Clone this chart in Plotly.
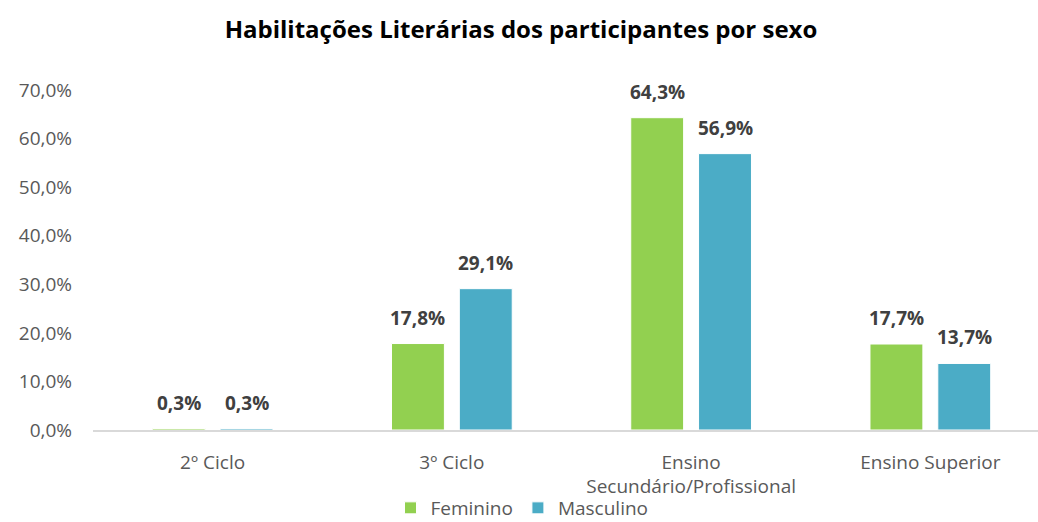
import plotly.graph_objects as go

categories = ["2º Ciclo", "3º Ciclo", "Ensino<br>Secundário/Profissional", "Ensino Superior"]
feminino = [0.3, 17.8, 64.3, 17.7]
masculino = [0.3, 29.1, 56.9, 13.7]
y_ticks = [0, 10, 20, 30, 40, 50, 60, 70]

FONT = "Open Sans"
GREEN = "#92D050"
BLUE = "#4BACC6"


def fmt(v):
    return f"{v:.1f}%".replace(".", ",")


fig = go.Figure()
fig.add_trace(go.Bar(name="Feminino", x=categories, y=feminino,
                     marker=dict(color=GREEN, line=dict(color="white", width=1))))
fig.add_trace(go.Bar(name="Masculino", x=categories, y=masculino,
                     marker=dict(color=BLUE, line=dict(color="white", width=1))))

annotations = []
for vals, shift in ((feminino, -34), (masculino, 34)):
    for c, v in zip(categories, vals):
        annotations.append(dict(x=c, y=v, xref="x", yref="y", text=fmt(v),
                                showarrow=False, xshift=shift, yshift=11,
                                yanchor="bottom",
                                font=dict(family=FONT, size=19, color="#404040", weight="bold")))

fig.update_layout(
    width=1038, height=522,
    paper_bgcolor="white", plot_bgcolor="white",
    margin=dict(l=93, r=0, t=90, b=92, autoexpand=False),
    barmode="group", bargap=0.433, bargroupgap=0.22,
    title=dict(text="<b>Habilitações Literárias dos participantes por sexo</b>",
               x=521 / 1038, xref="container", xanchor="center",
               y=1 - 30 / 522, yref="container", yanchor="middle",
               font=dict(family=FONT, size=24, color="black")),
    font=dict(family=FONT, size=19, color="#595959"),
    legend=dict(orientation="h", x=522 / 1038, xref="container", xanchor="center",
                y=-78 / 340, yref="paper", yanchor="middle",
                bgcolor="rgba(0,0,0,0)",
                font=dict(family=FONT, size=19, color="#595959"),
                tracegroupgap=0, itemwidth=30),
    showlegend=True,
    annotations=annotations,
    xaxis=dict(range=[-0.5, 3.45], showline=True, linecolor="#D9D9D9", linewidth=1.5,
               showgrid=False, ticks="", ticklabelstandoff=14, automargin=False,
               tickfont=dict(family=FONT, size=19, color="#595959")),
    yaxis=dict(range=[0, 70], tickvals=y_ticks, ticktext=[fmt(t) for t in y_ticks],
               showgrid=False, zeroline=False, showline=False, ticks="",
               ticklabelstandoff=20, automargin=False,
               tickfont=dict(family=FONT, size=19, color="#595959")),
)

fig.write_html("out.html", config={"displayModeBar": False},
               post_script="document.body.style.margin='0';")
